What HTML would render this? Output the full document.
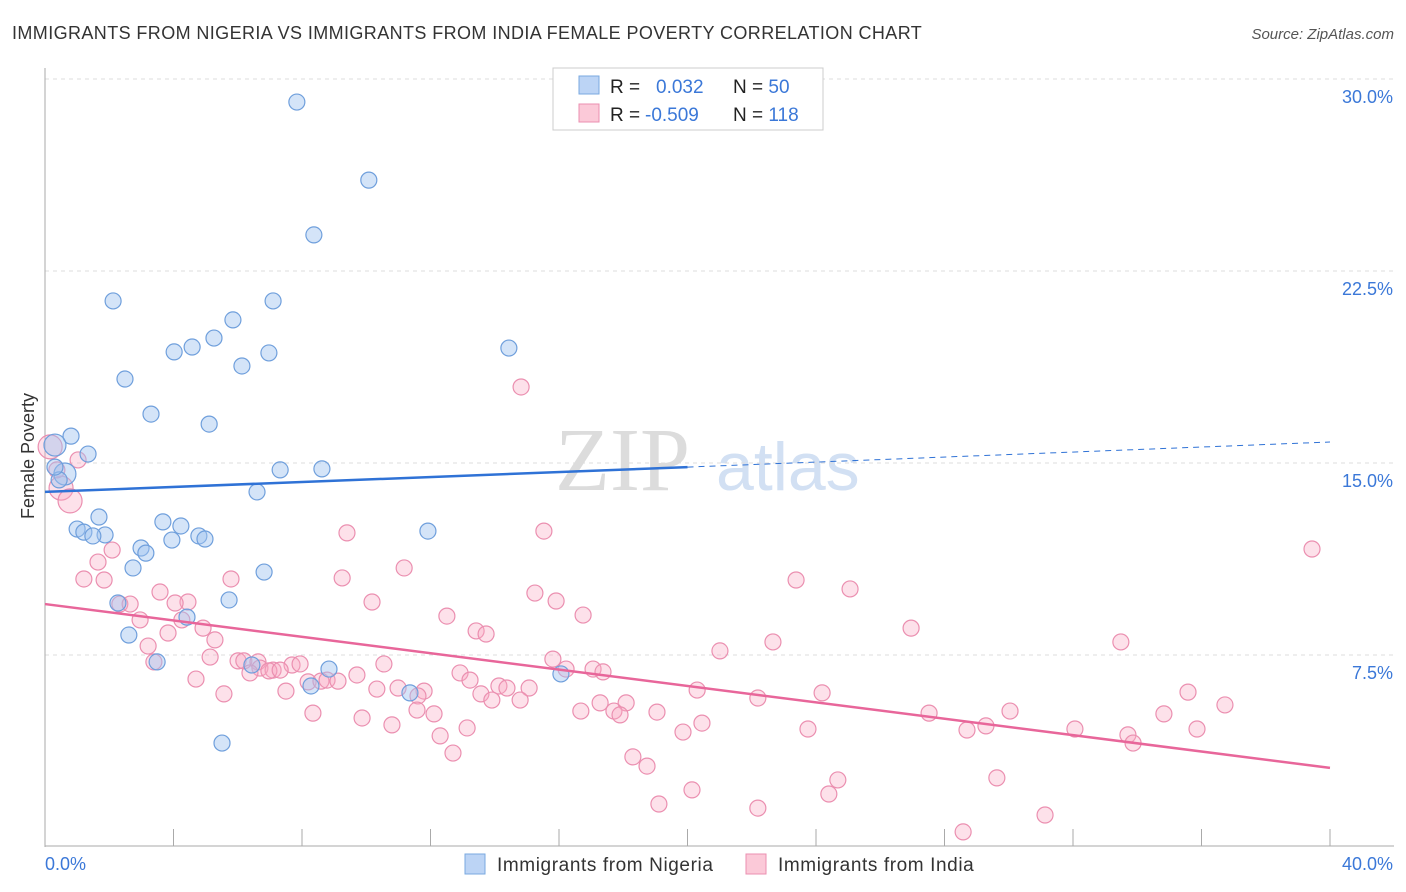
<!DOCTYPE html>
<html><head><meta charset="utf-8"><style>
body{margin:0;background:#fff;font-family:"Liberation Sans",sans-serif;}
svg{display:block}
</style></head><body>
<svg id="chart" width="1406" height="892">
<text x="12" y="39" font-size="18" fill="#333" letter-spacing="0.4">IMMIGRANTS FROM NIGERIA VS IMMIGRANTS FROM INDIA FEMALE POVERTY CORRELATION CHART</text>
<text x="1394" y="39" font-size="15" fill="#555" font-style="italic" text-anchor="end">Source: ZipAtlas.com</text>
<text x="555" y="490" font-size="90" fill="#dcdcdc" font-family="Liberation Serif,serif">ZIP</text>
<text x="716" y="490" font-size="68" fill="#d2e0f3">atlas</text>
<text transform="translate(34,456) rotate(-90)" font-size="18" fill="#333" text-anchor="middle">Female Poverty</text>
<g id="grid"></g><g id="axes"></g><g id="pts"></g><g id="lines"></g>
<g>
<rect x="553" y="68" width="270" height="62" fill="#fff" stroke="#ccc"/>
<rect x="579" y="76" width="20" height="18" fill="#bcd4f5" stroke="#7aa9e0"/>
<rect x="579" y="104" width="20" height="18" fill="#fbc9d8" stroke="#eb8fb0"/>
<text x="610" y="93" font-size="19" fill="#222">R = <tspan fill="#3b78d8" x="656">0.032</tspan><tspan x="733">N = </tspan><tspan fill="#3b78d8">50</tspan></text>
<text x="610" y="121" font-size="19" fill="#222">R = <tspan fill="#3b78d8" x="645">-0.509</tspan><tspan x="733">N = </tspan><tspan fill="#3b78d8">118</tspan></text>
</g>
<g>
<rect x="465" y="854" width="20" height="20" fill="#bcd4f5" stroke="#7aa9e0"/>
<text x="497" y="871" font-size="19" fill="#333" letter-spacing="0.6">Immigrants from Nigeria</text>
<rect x="746" y="854" width="20" height="20" fill="#fbc9d8" stroke="#eb8fb0"/>
<text x="778" y="871" font-size="19" fill="#333" letter-spacing="0.6">Immigrants from India</text>
</g>
</svg>
<script>
const yTicks=[7.5,15,22.5,30];
const yTickLabels=["7.5%","15.0%","22.5%","30.0%"];
const xTicks=[0,4,8,12,16,20,24,28,32,36,40];
const xEndLabels=["0.0%","40.0%"];
const nigeriaX=[7.84,10.08,8.37,2.12,7.10,5.85,5.26,4.58,4.02,6.97,6.13,14.44,2.49,3.30,5.11,0.81,1.34,7.32,8.62,0.62,0.44,0.31,6.60,1.68,3.67,4.23,1.00,1.21,1.87,1.49,4.79,4.98,3.95,11.92,2.99,3.14,2.74,6.82,5.73,2.27,4.42,2.61,3.49,6.44,8.84,8.28,11.36,16.06,5.51,0.31];
const nigeriaY=[29.10,26.05,23.91,21.33,21.33,20.59,19.88,19.53,19.34,19.30,18.79,19.49,18.28,16.91,16.52,16.05,15.35,14.73,14.77,14.57,14.34,15.70,13.87,12.89,12.70,12.54,12.42,12.30,12.19,12.15,12.15,12.03,11.99,12.34,11.68,11.48,10.90,10.74,9.65,9.53,8.98,8.28,7.23,7.11,6.95,6.29,6.02,6.76,4.06,14.84];
const indiaX=[14.82,39.44,9.40,15.53,0.50,0.78,1.03,2.09,1.65,1.21,1.84,11.18,9.25,5.79,23.38,25.06,15.25,3.58,15.91,10.18,12.51,16.75,4.45,2.33,2.65,4.05,2.96,4.26,4.92,3.83,13.42,13.73,26.96,5.29,3.21,22.66,33.49,21.01,15.81,3.39,5.14,6.01,6.19,6.63,6.69,6.38,7.10,7.69,7.94,6.97,7.32,10.55,12.92,16.22,17.06,17.37,4.70,8.19,8.59,8.78,9.12,9.71,13.23,14.13,14.38,15.07,5.57,7.50,10.33,10.99,11.80,11.61,13.57,13.91,14.79,20.30,24.19,22.19,35.58,17.28,18.09,36.73,17.71,16.68,17.90,19.05,11.58,12.11,8.34,9.87,10.80,13.14,30.04,27.52,34.83,29.29,23.75,28.70,20.45,19.86,32.06,33.71,35.86,33.87,12.30,12.70,18.30,18.74,24.68,29.63,24.40,20.14,19.11,22.19,31.13,28.58,0.16,0.37];
const indiaY=[17.97,11.64,12.27,12.34,14.02,13.52,15.12,11.60,11.13,10.47,10.43,10.90,10.51,10.47,10.43,10.08,9.92,9.96,9.61,9.57,9.02,9.06,9.57,9.49,9.49,9.53,8.87,8.87,8.55,8.36,8.44,8.32,8.55,8.09,7.85,8.01,8.01,7.66,7.34,7.23,7.42,7.27,7.27,7.23,6.99,6.80,6.91,7.11,7.15,6.88,6.91,7.15,6.80,6.95,6.95,6.84,6.56,6.45,6.48,6.52,6.48,6.72,6.52,6.29,6.21,6.21,5.98,6.09,6.17,6.21,6.09,5.90,5.98,5.74,5.74,6.13,6.02,5.82,6.05,5.63,5.63,5.55,5.31,5.31,5.16,5.27,5.35,5.20,5.23,5.04,4.77,4.65,5.31,5.23,5.20,4.73,4.61,4.57,4.84,4.49,4.61,4.38,4.61,4.06,4.34,3.67,3.52,3.16,2.62,2.70,2.07,2.23,1.68,1.52,1.25,0.59,15.63,14.73];
const bigIndia=[4,5,116];const bigNigeria=[21,19];
const nigeriaTrendX=[0,20,40];const nigeriaTrendY=[13.87,14.84,15.82];
const indiaTrendX=[0,40];const indiaTrendY=[9.49,3.09];
const NS="http://www.w3.org/2000/svg";
const X=v=>45+v/40*1285, Y=v=>847-v/30*768;
function mk(t,a,p){const e=document.createElementNS(NS,t);for(const k in a)e.setAttribute(k,a[k]);document.getElementById(p).appendChild(e);return e;}
yTicks.forEach((t,i)=>{
 const g=mk('line',{x1:45,x2:1394,y1:Y(t),y2:Y(t),stroke:'#ddd','stroke-dasharray':'4,4'},'grid');
 
 
 const l=mk('text',{x:1393,y:Y(t)+24,'font-size':18,fill:'#3b78d8','text-anchor':'end'},'grid');l.textContent=yTickLabels[i];
 
 
});
const ya=mk('line',{x1:45,x2:45,y1:68,y2:847,stroke:'#aaa'},'axes');


const xa=mk('line',{x1:45,x2:1394,y1:846,y2:846,stroke:'#aaa'},'axes');


xTicks.forEach(t=>{const e=mk('line',{x1:X(t),x2:X(t),y1:829,y2:846,stroke:'#aaa'},'axes');
 
 });
const l0=mk('text',{x:45,y:870,'font-size':18,fill:'#3b78d8'},'axes');l0.textContent=xEndLabels[0];


const l1=mk('text',{x:1393,y:870,'font-size':18,fill:'#3b78d8','text-anchor':'end'},'axes');l1.textContent=xEndLabels[1];


indiaX.forEach((x,i)=>{const c=mk('circle',{cx:X(x),cy:Y(indiaY[i]),r:bigIndia.includes(i)?12:8,fill:'rgba(248,170,195,0.35)',stroke:'#eb8fb0','stroke-width':1.2},'pts');
 
 });
nigeriaX.forEach((x,i)=>{const c=mk('circle',{cx:X(x),cy:Y(nigeriaY[i]),r:bigNigeria.includes(i)?11:8,fill:'rgba(160,196,240,0.45)',stroke:'#6f9fdc','stroke-width':1.2},'pts');
 
 });
const t1=mk('line',{x1:X(nigeriaTrendX[0]),y1:Y(nigeriaTrendY[0]),x2:X(nigeriaTrendX[1]),y2:Y(nigeriaTrendY[1]),stroke:'#2f72d6','stroke-width':2.5},'lines');


const t2=mk('line',{x1:X(nigeriaTrendX[1]),y1:Y(nigeriaTrendY[1]),x2:X(nigeriaTrendX[2]),y2:Y(nigeriaTrendY[2]),stroke:'#2f72d6','stroke-width':1,'stroke-dasharray':'6,5'},'lines');


const t3=mk('line',{x1:X(indiaTrendX[0]),y1:Y(indiaTrendY[0]),x2:X(indiaTrendX[1]),y2:Y(indiaTrendY[1]),stroke:'#e8669a','stroke-width':2.5},'lines');


</script>
</body></html>
